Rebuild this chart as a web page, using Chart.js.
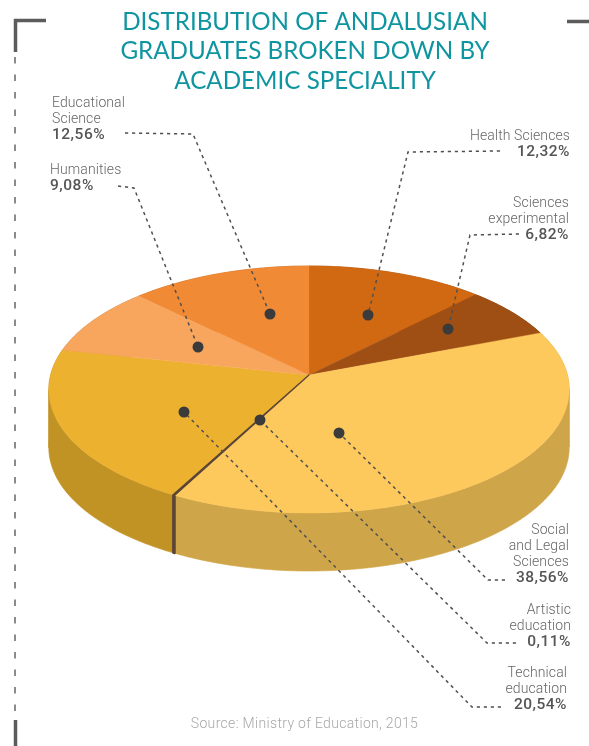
<!DOCTYPE html>
<html>
<head>
<meta charset="utf-8">
<style>
  html, body { margin: 0; padding: 0; background: #fff; overflow: hidden; }
  #wrap { position: relative; width: 589px; height: 746px; }
  #chart { position: absolute; left: 0; top: 0; }
  .callout { position: absolute; font: 300 14px/16px Roboto, sans-serif; color: #666; white-space: pre-line; letter-spacing: 0.1px; }
  .callout b { display: block; font-weight: 500; font-size: 15.5px; color: #555; letter-spacing: 0.5px; }
  #source { position: absolute; left: 0; width: 609px; top: 715px; text-align: center; font: 300 14px/16px Roboto, sans-serif; color: #a8a8a8; letter-spacing: 0.32px; }
</style>
</head>
<body>
<div id="wrap">
  <canvas id="chart" width="589" height="746"></canvas>
  <div id="source">Source: Ministry of Education, 2015</div>
</div>
<script src="https://cdn.jsdelivr.net/npm/chart.js@4"></script>
<script>
// Datos
const titleLines = ["DISTRIBUTION OF ANDALUSIAN", "GRADUATES BROKEN DOWN BY", "ACADEMIC SPECIALITY"];
const categories = ["Health Sciences", "Sciences\nexperimental", "Social\nand Legal\nSciences", "Artistic\neducation", "Technical\neducation", "Humanities", "Educational\nScience"];
const shares = [12.32, 6.82, 38.56, 0.11, 20.54, 9.08, 12.56];
const topColors = ["#d16812", "#9f4f14", "#fec95c", "#5a4536", "#edb130", "#f8a65e", "#f18a35"];
const sideColors = ["#a85410", "#7f3f10", "#cfa549", "#5a4536", "#c19324", "#c6854b", "#c16e2a"];
const edgeWidths = [0.4, 0.4, 0.4, 1.2, 0.4, 0.4, 0.4];

// Colocacion de las etiquetas y lineas guia (anotaciones, no datos)
const calloutBoxes = [
  { right: 19, top: 127 }, { right: 20, top: 194 }, { right: 20, top: 521 }, { right: 18, top: 601 },
  { right: 22, top: 664 }, { left: 50, top: 161 }, { left: 52, top: 94 }
];
const leaderPaths = [
  [[500, 151], [408, 152], [368, 315]],
  [[519, 234], [470, 235], [448, 329]],
  [[505, 580], [488, 580], [339, 433]],
  [[516, 643], [487, 643], [260, 420]],
  [[501, 707], [472, 707], [184, 412]],
  [[118, 186], [134, 188], [198, 347]],
  [[125, 133], [193, 134], [270, 314]]
];

// Proyeccion del circulo con perspectiva: el vertice no cae en el centro de la elipse
const apexX = 309, apexY = 375, scaleX = 258.4, scaleY = 121.8, tilt = 0.1174, depth = 58;

function project(angle) {
  const w = 1 - tilt * Math.sin(angle);
  return [apexX + scaleX * Math.cos(angle) / w, apexY + scaleY * Math.sin(angle) / w];
}

// Parte el borde en tramos donde x siempre avanza en el mismo sentido
function monotonicRuns(pts) {
  const runs = [];
  let run = [pts[0]], dir = 0;
  for (let n = 1; n < pts.length; n++) {
    const d = Math.sign(pts[n][0] - pts[n - 1][0]);
    if (dir && d && d !== dir) {
      runs.push(run);
      run = [pts[n - 1]];
    }
    if (d) dir = d;
    run.push(pts[n]);
  }
  runs.push(run);
  return runs;
}

// Controlador propio: usa los angulos que calcula Chart.js para cada porcion
class Pie3dController extends Chart.PieController {
  draw() {
    const ctx = this.chart.ctx;
    const arcs = this.getMeta().data;
    const rims = arcs.map(arc => {
      const { startAngle, endAngle } = arc.getProps(["startAngle", "endAngle"], true);
      const steps = Math.max(2, Math.ceil((endAngle - startAngle) * 60));
      const pts = [];
      for (let i = 0; i <= steps; i++) pts.push(project(startAngle + (endAngle - startAngle) * i / steps));
      return pts;
    });
    // La porcion mas fina se pinta la ultima para que las vecinas no la tapen
    const order = arcs.map((_, i) => i).sort((a, b) => edgeWidths[a] - edgeWidths[b]);

    ctx.save();
    ctx.lineJoin = "round";
    // Primero el lateral
    order.forEach(i => {
      ctx.fillStyle = sideColors[i];
      ctx.strokeStyle = sideColors[i];
      ctx.lineWidth = Math.max(edgeWidths[i] * 1.6, 0.6);
      monotonicRuns(rims[i]).forEach(run => {
        ctx.beginPath();
        run.forEach(([x, y], n) => n ? ctx.lineTo(x, y) : ctx.moveTo(x, y));
        run.slice().reverse().forEach(([x, y]) => ctx.lineTo(x, y + depth));
        ctx.closePath();
        ctx.fill();
        ctx.stroke();
      });
    });
    // Despues la cara superior
    order.forEach(i => {
      const arc = arcs[i];
      ctx.beginPath();
      ctx.moveTo(apexX, apexY);
      rims[i].forEach(([x, y]) => ctx.lineTo(x, y));
      ctx.closePath();
      ctx.fillStyle = arc.options.backgroundColor;
      ctx.strokeStyle = arc.options.borderColor;
      ctx.lineWidth = arc.options.borderWidth;
      ctx.fill();
      ctx.stroke();
    });
    ctx.restore();
  }
}
Pie3dController.id = "pie3d";
Pie3dController.defaults = Chart.PieController.defaults;
Pie3dController.overrides = Chart.PieController.overrides;
Chart.register(Pie3dController);

// Lineas guia, puntos y marco de la pagina
const decorations = {
  id: "decorations",
  afterDatasetsDraw(chart) {
    const ctx = chart.ctx;
    ctx.save();
    ctx.strokeStyle = "#505050";
    ctx.lineWidth = 1.5;
    ctx.setLineDash([3.2, 3.8]);
    leaderPaths.forEach(path => {
      ctx.beginPath();
      path.forEach(([x, y], n) => n ? ctx.lineTo(x, y) : ctx.moveTo(x, y));
      ctx.stroke();
    });
    ctx.setLineDash([]);
    ctx.fillStyle = "#3b3b3b";
    leaderPaths.forEach(path => {
      const [x, y] = path[2];
      ctx.beginPath();
      ctx.arc(x, y, 5.5, 0, Math.PI * 2);
      ctx.fill();
    });

    ctx.strokeStyle = "#5c5c5c";
    ctx.lineWidth = 3.5;
    ctx.beginPath();
    ctx.moveTo(46, 20.5); ctx.lineTo(15.5, 20.5); ctx.lineTo(15.5, 52);
    ctx.moveTo(567, 21.5); ctx.lineTo(589, 21.5);
    ctx.moveTo(15.5, 720); ctx.lineTo(15.5, 746);
    ctx.stroke();
    ctx.lineWidth = 1.5;
    ctx.strokeStyle = "#666";
    ctx.setLineDash([6.5, 11]);
    ctx.beginPath();
    ctx.moveTo(15, 57); ctx.lineTo(15, 712);
    ctx.stroke();
    ctx.restore();
  }
};

new Chart(document.getElementById("chart"), {
  type: "pie3d",
  data: {
    labels: categories,
    datasets: [{
      data: shares,
      backgroundColor: topColors,
      borderColor: topColors,
      borderWidth: edgeWidths
    }]
  },
  options: {
    responsive: false,
    animation: false,
    events: [],
    layout: { padding: { left: 21 } },
    plugins: {
      legend: { display: false },
      tooltip: { enabled: false },
      title: {
        display: true,
        text: titleLines,
        color: "#0f95a0",
        font: { family: "Lato", size: 24.2, weight: "400", lineHeight: 1.22 },
        padding: { top: 7, bottom: 0 }
      }
    }
  },
  plugins: [decorations]
});

// Etiquetas como texto HTML
const wrap = document.getElementById("wrap");
categories.forEach((name, i) => {
  const div = document.createElement("div");
  div.className = "callout";
  const box = calloutBoxes[i];
  div.style.top = box.top + "px";
  if (box.left !== undefined) { div.style.left = box.left + "px"; div.style.textAlign = "left"; }
  else { div.style.right = box.right + "px"; div.style.textAlign = "right"; }
  div.textContent = name;
  const value = document.createElement("b");
  value.textContent = shares[i].toFixed(2).replace(".", ",") + "%";
  div.appendChild(value);
  wrap.appendChild(div);
});
</script>
</body>
</html>
